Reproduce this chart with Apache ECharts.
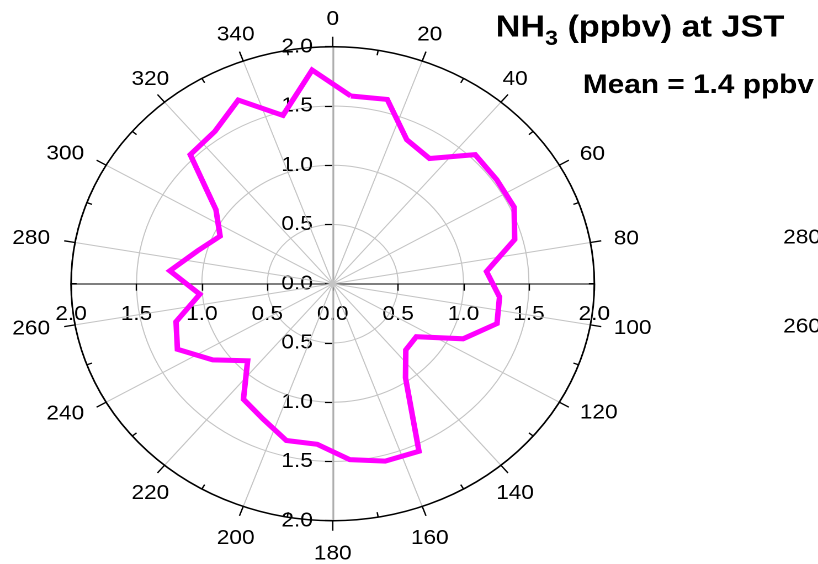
<!DOCTYPE html>
<html>
<head>
<meta charset="utf-8">
<script src="https://cdn.jsdelivr.net/npm/echarts@6/dist/echarts.min.js"></script>
<style>
html, body { margin: 0; padding: 0; background: #fff; overflow: hidden; }
#wrap { width: 818px; height: 564px; overflow: hidden; }
#chart { width: 741px; height: 564px; transform: scaleX(1.1039); transform-origin: 0 0; }
</style>
</head>
<body>
<div id="wrap"><div id="chart"></div></div>
<script>
// ---- data (wind-direction sectors, degrees) ----
const directions = [5, 15, 25, 35, 45, 55, 65, 75, 85, 95, 105, 115, 125, 135, 145, 155, 165, 175,
                    185, 195, 205, 215, 225, 235, 245, 255, 265, 275, 285, 295, 305, 315, 325, 335, 345, 355];
const nh3 = [1.59, 1.61, 1.34, 1.29, 1.54, 1.53, 1.53, 1.44, 1.18, 1.28, 1.30, 1.10, 0.78, 0.79, 0.97, 1.56, 1.55, 1.49,
             1.36, 1.37, 1.26, 1.19, 0.92, 1.12, 1.31, 1.24, 1.02, 1.25, 1.07, 0.95, 1.09, 1.54, 1.57, 1.71, 1.47, 1.81];
const angleTickLabels = ['0', '20', '40', '60', '80', '100', '120', '140', '160', '180',
                         '200', '220', '240', '260', '280', '300', '320', '340'];
const neighbourLabels = ['280', '260'];
const titleText = 'NH{s|3} (ppbv) at JST';
const meanText = 'Mean = 1.4 ppbv';

// ---- layout ----
const FONT = "'Liberation Sans', Arial, Helvetica, sans-serif";
const FS = 20.5;
const CX = 301.4, CY = 283.7, R = 237;
const RMAX = 2;

const chart = echarts.init(document.getElementById('chart'), null, { renderer: 'canvas', devicePixelRatio: 2 });

const lineData = directions.map((d, i) => [nh3[i], d]);
lineData.push([nh3[0], directions[0]]);

// pixel offset of each angular tick label from its point on the outer circle
function labelOffset(text, deg) {
  const a = deg * Math.PI / 180;
  const s = Math.sin(a), c = Math.cos(a);
  const w = text.length * 0.556 * FS, h = 15;
  if (Math.abs(s) > 0.75) {
    const g = s > 0 ? 21.5 : 23;
    return [g * s + Math.sign(s) * w / 2, -g * c];
  }
  const g = 20;
  return [g * s, -g * c + (c > 0 ? -h / 2 : h / 2 + 5.5)];
}
const angleLabelData = angleTickLabels.map(t => {
  const deg = Number(t);
  return { name: t, value: [RMAX, deg], label: { offset: labelOffset(t, deg) } };
});

const polarBase = { center: [CX, CY], radius: R };
const labelStyle = { fontSize: FS, fontFamily: FONT, color: '#000' };
const tickStyle = { color: '#000', width: 1.2 };
const fmt = v => v.toFixed(1);

const option = {
  animation: false,
  backgroundColor: '#fff',
  polar: [polarBase, polarBase, polarBase, polarBase, polarBase],
  angleAxis: [
    { polarIndex: 0, type: 'value', min: 0, max: 360, interval: 20, startAngle: 90, clockwise: true, z: 1,
      axisLine: { show: true, lineStyle: { color: '#000', width: 1.5 } },
      axisTick: { show: true, length: 10, lineStyle: { color: '#000', width: 1.3 } },
      axisLabel: { show: false },
      splitLine: { show: true, lineStyle: { color: '#c4c4c4', width: 1 } } },
    { polarIndex: 1, type: 'value', min: 10, max: 370, interval: 20, startAngle: 80, clockwise: true, z: 1,
      axisLine: { show: false },
      axisTick: { show: true, inside: true, length: 5, lineStyle: { color: '#000', width: 1.3 } },
      axisLabel: { show: false }, splitLine: { show: false } },
    { polarIndex: 2, type: 'value', min: 0, max: 360, startAngle: 0, show: false },
    { polarIndex: 3, type: 'value', min: 0, max: 360, startAngle: 180, show: false },
    { polarIndex: 4, type: 'value', min: 0, max: 360, startAngle: 270, show: false }
  ],
  radiusAxis: [
    // up (0 deg)
    { polarIndex: 0, type: 'value', min: 0, max: RMAX, interval: 0.5, z: 0,
      axisLine: { show: true, lineStyle: { color: '#a8a8a8', width: 1.5 } },
      axisTick: { show: true, length: 7, lineStyle: tickStyle },
      axisLabel: Object.assign({ formatter: fmt, margin: 18 }, labelStyle),
      splitLine: { show: true, lineStyle: { color: '#c4c4c4', width: 1 } } },
    { polarIndex: 1, type: 'value', min: 0, max: RMAX, show: false },
    // right (90 deg)
    { polarIndex: 2, type: 'value', min: 0, max: RMAX, interval: 0.5,
      axisLine: { show: true, lineStyle: { color: '#555', width: 1.5 } },
      axisTick: { show: true, length: -7, lineStyle: tickStyle },
      axisLabel: Object.assign({ formatter: fmt, margin: -20, verticalAlign: 'top', align: 'center' }, labelStyle),
      splitLine: { show: false } },
    // left (270 deg)
    { polarIndex: 3, type: 'value', min: 0, max: RMAX, interval: 0.5,
      axisLine: { show: true, lineStyle: { color: '#555', width: 1.5 } },
      axisTick: { show: true, length: 7, lineStyle: tickStyle },
      axisLabel: Object.assign({ formatter: fmt, margin: 20, showMinLabel: false }, labelStyle),
      splitLine: { show: false } },
    // down (180 deg)
    { polarIndex: 4, type: 'value', min: 0, max: RMAX, interval: 0.5,
      axisLine: { show: true, lineStyle: { color: '#a8a8a8', width: 1.5 } },
      axisTick: { show: true, length: -7, lineStyle: tickStyle },
      axisLabel: Object.assign({ formatter: fmt, margin: -18, align: 'right', verticalAlign: 'middle', showMinLabel: false }, labelStyle),
      splitLine: { show: false } }
  ],
  series: [
    { type: 'line', coordinateSystem: 'polar', polarIndex: 0, data: lineData, symbol: 'none',
      z: 5, silent: true,
      lineStyle: { color: '#ff00ff', width: 5, join: 'miter' } },
    { type: 'scatter', coordinateSystem: 'polar', polarIndex: 0, data: angleLabelData,
      symbolSize: 0, clip: false, silent: true, z: 4,
      itemStyle: { opacity: 1 },
      label: { show: true, position: 'inside', formatter: '{b}', fontSize: FS, fontFamily: FONT,
               color: '#000', opacity: 1, textBorderWidth: 0 } }
  ],
  graphic: [
    { type: 'text', x: 449, y: 12.4, silent: true,
      style: { text: titleText, fontSize: 31, fontWeight: 'bold', fontFamily: FONT, fill: '#000',
               lineHeight: 31, verticalAlign: 'top', align: 'left',
               rich: { s: { fontSize: 21, fontWeight: 'bold', fontFamily: FONT, fill: '#000', height: 8, verticalAlign: 'bottom' } } } },
    { type: 'text', x: 528, y: 85.6, silent: true,
      style: { text: meanText, fontSize: 27, fontWeight: 'bold', fontFamily: FONT, fill: '#000',
               verticalAlign: 'middle', align: 'left' } },
    { type: 'text', x: 709.5, y: 238, silent: true,
      style: { text: neighbourLabels[0], fontSize: FS, fontFamily: FONT, fill: '#000', verticalAlign: 'middle', align: 'left' } },
    { type: 'text', x: 709.5, y: 326.7, silent: true,
      style: { text: neighbourLabels[1], fontSize: FS, fontFamily: FONT, fill: '#000', verticalAlign: 'middle', align: 'left' } }
  ]
};
chart.setOption(option);
</script>
</body>
</html>
